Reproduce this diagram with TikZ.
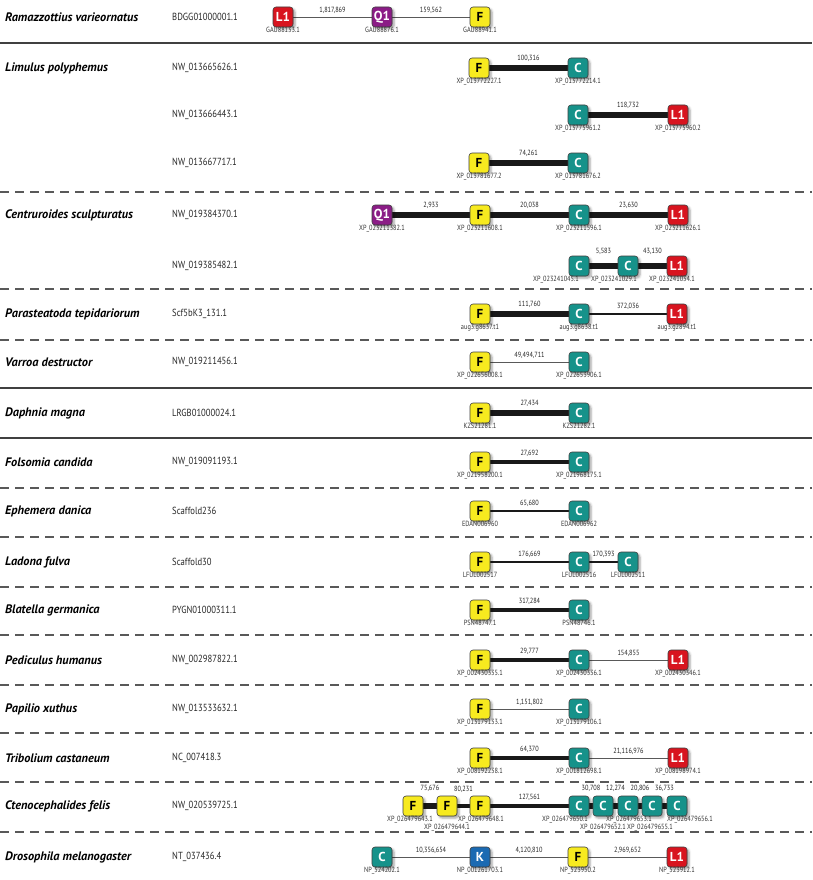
\documentclass[tikz,border=0pt]{standalone}
\usepackage{fontspec}
\setmainfont{PT Sans}
\newfontfamily\narrowfont[FakeStretch=0.84]{PT Sans}
\usetikzlibrary{shadows.blur,backgrounds}

\definecolor{geneL}{HTML}{D8141F}
\definecolor{geneQ}{HTML}{8B1C86}
\definecolor{geneF}{HTML}{F7EA1F}
\definecolor{geneC}{HTML}{16928A}
\definecolor{geneK}{HTML}{1B6AB2}

\begin{document}
\begin{tikzpicture}[x=1pt, y=-1pt,
    gene/.style={draw=black!75, line width=0.6pt, rounded corners=3pt,
      minimum size=20pt, inner sep=0pt, text=white,
      font=\bfseries\fontsize{13}{13}\selectfont, label distance=1.8pt,
      blur shadow={shadow xshift=2pt, shadow yshift=-2pt,
        shadow blur radius=2.2pt, shadow opacity=38}},
    gL/.style={gene, fill=geneL},
    gQ/.style={gene, fill=geneQ},
    gF/.style={gene, fill=geneF, text=black},
    gC/.style={gene, fill=geneC},
    gK/.style={gene, fill=geneK},
    acc/.style={font=\narrowfont\fontsize{7.5}{8}\selectfont, inner sep=0pt, text=black!80},
    dist/.style={font=\narrowfont\fontsize{7.5}{8}\selectfont, inner sep=0pt,
      text=black!85, midway, above=3pt},
    spname/.style={anchor=west, inner sep=0pt, font=\bfseries\itshape\fontsize{12.3}{14}\selectfont},
    scafid/.style={anchor=west, inner sep=0pt, text=black!85, font=\narrowfont\fontsize{10.3}{12}\selectfont},
    lnthin/.style={draw=black!65, line width=0.9pt},
    lnmid/.style={draw=black!90, line width=2.6pt},
    lnbold/.style={draw=black!90, line width=3.8pt},
    lnheavy/.style={draw=black!90, line width=5.8pt},
    solidrule/.style={draw=black!75, line width=1.4pt},
    dashrule/.style={draw=black!65, line width=1.2pt, dash pattern=on 9pt off 6pt}]
    \useasboundingbox (0,0) rectangle (812,880);

    % left columns: species and scaffolds
    \node[spname] (sRv) at (5,17) {Ramazzottius varieornatus};
    \node[spname] (sLp) at (5,68) {Limulus polyphemus};
    \node[spname] (sCs) at (5,215) {Centruroides sculpturatus};
    \node[spname] (sPt) at (5,314) {Parasteatoda tepidariorum};
    \node[spname] (sVd) at (5,362) {Varroa destructor};
    \node[spname] (sDm) at (5,413) {Daphnia magna};
    \node[spname] (sFc) at (5,462) {Folsomia candida};
    \node[spname] (sEd) at (5,511) {Ephemera danica};
    \node[spname] (sLf) at (5,562) {Ladona fulva};
    \node[spname] (sBg) at (5,610) {Blatella germanica};
    \node[spname] (sPh) at (5,660) {Pediculus humanus};
    \node[spname] (sPx) at (5,709) {Papilio xuthus};
    \node[spname] (sTc) at (5,758) {Tribolium castaneum};
    \node[spname] (sCf) at (5,806) {Ctenocephalides felis};
    \node[spname] (sDe) at (5,857) {Drosophila melanogaster};

    \node[scafid] (cRv) at (172,17) {BDGG01000001.1};
    \node[scafid] (cLpA) at (172,68) {NW\_013665626.1};
    \node[scafid] (cLpB) at (172,115) {NW\_013666443.1};
    \node[scafid] (cLpC) at (172,163) {NW\_013667717.1};
    \node[scafid] (cCsA) at (172,215) {NW\_019384370.1};
    \node[scafid] (cCsB) at (172,266) {NW\_019385482.1};
    \node[scafid] (cPt) at (172,314) {Scf5bK3\_131.1};
    \node[scafid] (cVd) at (172,362) {NW\_019211456.1};
    \node[scafid] (cDm) at (172,413) {LRGB01000024.1};
    \node[scafid] (cFc) at (172,462) {NW\_019091193.1};
    \node[scafid] (cEd) at (172,511) {Scaffold236};
    \node[scafid] (cLf) at (172,562) {Scaffold30};
    \node[scafid] (cBg) at (172,610) {PYGN01000311.1};
    \node[scafid] (cPh) at (172,660) {NW\_002987822.1};
    \node[scafid] (cPx) at (172,709) {NW\_013533632.1};
    \node[scafid] (cTc) at (172,758) {NC\_007418.3};
    \node[scafid] (cCf) at (172,806) {NW\_020539725.1};
    \node[scafid] (cDe) at (172,857) {NT\_037436.4};

    % separators
    \draw[solidrule] (0,43) -- (812,43);
    \draw[solidrule] (0,388) -- (812,388);
    \draw[solidrule] (0,438) -- (812,438);
    \foreach \yy in {192,289,340,488,537,587,635,685,733,782,832}
      \draw[dashrule] (0,\yy) -- (812,\yy);

    % gene boxes
    \node[gL, label={[acc]below:GAU88133.1}] (rv1) at (283,17) {L1};
    \node[gQ, label={[acc]below:GAU88876.1}] (rv2) at (382,17) {Q1};
    \node[gF, label={[acc]below:GAU88941.1}] (rv3) at (480,17) {F};

    \node[gF, label={[acc]below:XP\_013772227.1}] (lpa1) at (479,68) {F};
    \node[gC, label={[acc]below:XP\_013772214.1}] (lpa2) at (578,68) {C};
    \node[gC, label={[acc]below:XP\_013775961.2}] (lpb1) at (578,115) {C};
    \node[gL, label={[acc]below:XP\_013775960.2}] (lpb2) at (678,115) {L1};
    \node[gF, label={[acc]below:XP\_013781677.2}] (lpc1) at (479,163) {F};
    \node[gC, label={[acc]below:XP\_013781676.2}] (lpc2) at (578,163) {C};

    \node[gQ, label={[acc]below:XP\_023211382.1}] (csa1) at (382,215) {Q1};
    \node[gF, label={[acc]below:XP\_023211608.1}] (csa2) at (480,215) {F};
    \node[gC, label={[acc]below:XP\_023211596.1}] (csa3) at (579,215) {C};
    \node[gL, label={[acc]below:XP\_023211626.1}] (csa4) at (678,215) {L1};
    \node[gC, label={[acc,xshift=-23pt]below:XP\_023241045.1}] (csb1) at (579,266) {C};
    \node[gC, label={[acc,xshift=-14pt]below:XP\_023241029.1}] (csb2) at (628,266) {C};
    \node[gL, label={[acc,xshift=-5pt]below:XP\_023241034.1}] (csb3) at (677,266) {L1};

    \node[gF, label={[acc]below:aug3.g8637.t1}] (pt1) at (480,314) {F};
    \node[gC, label={[acc]below:aug3.g8638.t1}] (pt2) at (579,314) {C};
    \node[gL, label={[acc]below:aug3.g2894.t1}] (pt3) at (677,314) {L1};

    \node[gF, label={[acc]below:XP\_022656008.1}] (vd1) at (480,362) {F};
    \node[gC, label={[acc]below:XP\_022653906.1}] (vd2) at (579,362) {C};

    \node[gF, label={[acc]below:KZS21281.1}] (dm1) at (480,413) {F};
    \node[gC, label={[acc]below:KZS21282.1}] (dm2) at (579,413) {C};

    \node[gF, label={[acc]below:XP\_021958200.1}] (fc1) at (480,462) {F};
    \node[gC, label={[acc]below:XP\_021968175.1}] (fc2) at (579,462) {C};

    \node[gF, label={[acc]below:EDAN006960}] (ed1) at (480,511) {F};
    \node[gC, label={[acc]below:EDAN006962}] (ed2) at (579,511) {C};

    \node[gF, label={[acc]below:LFUL002517}] (lf1) at (480,562) {F};
    \node[gC, label={[acc]below:LFUL002516}] (lf2) at (579,562) {C};
    \node[gC, label={[acc]below:LFUL002511}] (lf3) at (628,562) {C};

    \node[gF, label={[acc]below:PSN48747.1}] (bg1) at (480,610) {F};
    \node[gC, label={[acc]below:PSN48746.1}] (bg2) at (579,610) {C};

    \node[gF, label={[acc]below:XP\_002430335.1}] (ph1) at (480,660) {F};
    \node[gC, label={[acc]below:XP\_002430336.1}] (ph2) at (579,660) {C};
    \node[gL, label={[acc]below:XP\_002430346.1}] (ph3) at (678,660) {L1};

    \node[gF, label={[acc]below:XP\_013179133.1}] (px1) at (480,709) {F};
    \node[gC, label={[acc]below:XP\_013179106.1}] (px2) at (579,709) {C};

    \node[gF, label={[acc]below:XP\_008192238.1}] (tc1) at (480,758) {F};
    \node[gC, label={[acc]below:XP\_001812698.1}] (tc2) at (579,758) {C};
    \node[gL, label={[acc]below:XP\_008198974.1}] (tc3) at (678,758) {L1};

    \node[gF, label={[acc,xshift=-3pt]below:XP\_026479643.1}] (cf1) at (413,806) {F};
    \node[gF, label={[acc,label distance=8pt]below:XP\_026479644.1}] (cf2) at (447,806) {F};
    \node[gF, label={[acc,xshift=1pt]below:XP\_026479648.1}] (cf3) at (480,806) {F};
    \node[gC, label={[acc,xshift=-14pt]below:XP\_026479650.1}] (cf4) at (579,806) {C};
    \node[gC, label={[acc,label distance=8pt]below:XP\_026479652.1}] (cf5) at (603,806) {C};
    \node[gC, label={[acc,xshift=1pt]below:XP\_026479653.1}] (cf6) at (628,806) {C};
    \node[gC, label={[acc,xshift=-2pt,label distance=8pt]below:XP\_026479655.1}] (cf7) at (652,806) {C};
    \node[gC, label={[acc,xshift=13pt]below:XP\_026479656.1}] (cf8) at (677,806) {C};

    \node[gC, label={[acc]below:NP\_524202.1}] (de1) at (382,857) {C};
    \node[gK, label={[acc]below:NP\_001261703.1}] (de2) at (480,857) {K};
    \node[gF, label={[acc]below:NP\_523950.2}] (de3) at (578,857) {F};
    \node[gL, label={[acc]below:NP\_523912.1}] (de4) at (677,857) {L1};

    % links with intergenic distances
    \begin{scope}[on background layer]
      \draw[lnthin] (rv1) -- node[dist] {1,817,869} (rv2);
      \draw[lnthin] (rv2) -- node[dist] {159,562} (rv3);
      \draw[lnheavy] (lpa1) -- node[dist] {100,316} (lpa2);
      \draw[lnheavy] (lpb1) -- node[dist] {118,732} (lpb2);
      \draw[lnheavy] (lpc1) -- node[dist] {74,261} (lpc2);
      \draw[lnheavy] (csa1) -- node[dist] {2,933} (csa2);
      \draw[lnheavy] (csa2) -- node[dist] {20,038} (csa3);
      \draw[lnheavy] (csa3) -- node[dist] {23,630} (csa4);
      \draw[lnheavy] (csb1) -- node[dist, above=5pt] {5,583} (csb2);
      \draw[lnheavy] (csb2) -- node[dist, above=5pt] {43,130} (csb3);
      \draw[lnheavy] (pt1) -- node[dist] {111,760} (pt2);
      \draw[lnmid] (pt2) -- node[dist] {372,036} (pt3);
      \draw[lnthin] (vd1) -- node[dist] {49,494,711} (vd2);
      \draw[lnheavy] (dm1) -- node[dist] {27,434} (dm2);
      \draw[lnbold] (fc1) -- node[dist] {27,692} (fc2);
      \draw[lnmid] (ed1) -- node[dist] {65,680} (ed2);
      \draw[lnmid] (lf1) -- node[dist] {176,669} (lf2);
      \draw[lnmid] (lf2) -- node[dist] {170,393} (lf3);
      \draw[lnbold] (bg1) -- node[dist] {317,284} (bg2);
      \draw[lnbold] (ph1) -- node[dist] {29,777} (ph2);
      \draw[lnthin] (ph2) -- node[dist] {154,855} (ph3);
      \draw[lnthin] (px1) -- node[dist] {1,151,802} (px2);
      \draw[lnbold] (tc1) -- node[dist] {64,370} (tc2);
      \draw[lnthin] (tc2) -- node[dist] {21,116,976} (tc3);
      \draw[lnheavy] (cf1) -- node[dist, above=8pt] {75,676} (cf2);
      \draw[lnbold] (cf2) -- node[dist, above=8pt] {80,231} (cf3);
      \draw[lnbold] (cf3) -- node[dist] {127,561} (cf4);
      \draw[lnheavy] (cf4) -- node[dist, above=8pt] {30,708} (cf5);
      \draw[lnheavy] (cf5) -- node[dist, above=8pt] {12,274} (cf6);
      \draw[lnheavy] (cf6) -- node[dist, above=8pt] {20,806} (cf7);
      \draw[lnheavy] (cf7) -- node[dist, above=8pt] {36,733} (cf8);
      \draw[lnthin] (de1) -- node[dist] {10,356,654} (de2);
      \draw[lnthin] (de2) -- node[dist] {4,120,810} (de3);
      \draw[lnthin] (de3) -- node[dist] {2,969,652} (de4);
    \end{scope}
\end{tikzpicture}
\end{document}
